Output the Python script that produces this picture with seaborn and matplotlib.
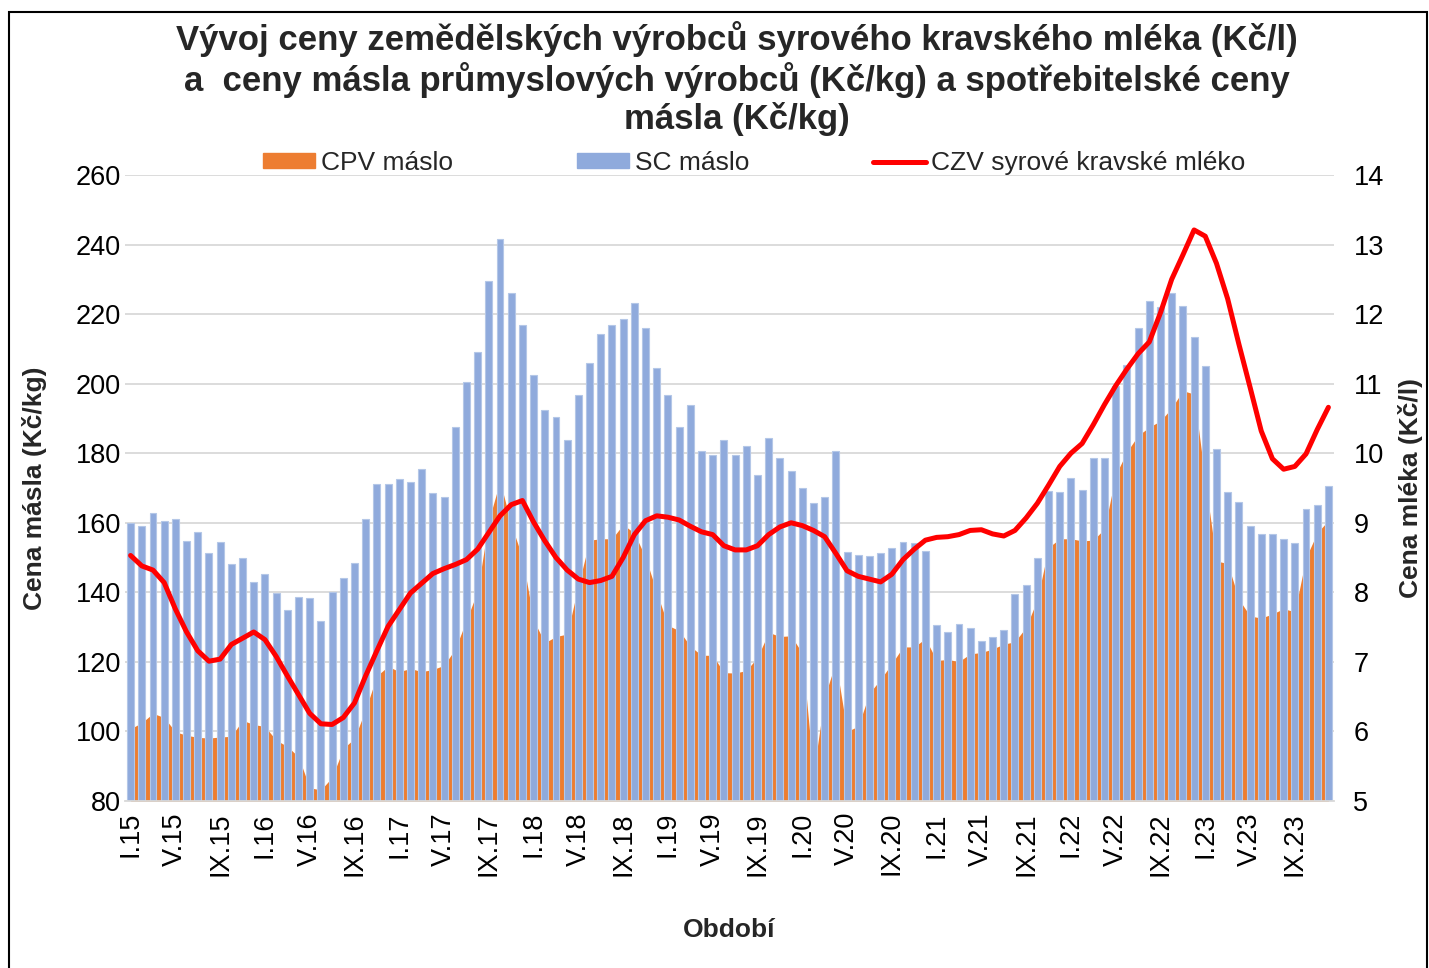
import numpy as np
import pandas as pd
import seaborn as sns
import matplotlib.pyplot as plt
from matplotlib.patches import Patch, Rectangle
from matplotlib.lines import Line2D

sns.set_style('white')
plt.rcParams['font.family'] = ['Liberation Sans', 'DejaVu Sans']

# obdobi I.15 .. XII.23
roman = ['I', 'II', 'III', 'IV', 'V', 'VI', 'VII', 'VIII', 'IX', 'X', 'XI', 'XII']
years = ['15', '16', '17', '18', '19', '20', '21', '22', '23']
obdobi = [m + '.' + r for r in years for m in roman]

# SC maslo (Kc/kg)
sc = [159.8, 159.2, 162.7, 160.5, 161.0, 154.8, 157.4, 151.2, 154.5, 148.1, 150.0, 142.9,
      145.3, 139.8, 134.8, 138.8, 138.5, 131.8, 140.2, 144.0, 148.4, 161.0, 171.2, 171.2,
      172.5, 171.7, 175.5, 168.5, 167.5, 187.5, 200.6, 209.2, 229.4, 241.7, 226.0, 217.0,
      202.6, 192.5, 190.5, 183.8, 196.8, 206.0, 214.3, 216.8, 218.7, 223.2, 216.1, 204.6,
      196.7, 187.4, 194.0, 180.6, 179.4, 183.8, 179.4, 182.1, 173.7, 184.5, 178.5, 174.9,
      170.1, 165.6, 167.5, 180.6, 151.5, 150.8, 150.5, 151.4, 152.8, 154.6, 154.1, 151.8,
      130.6, 128.5, 131.0, 129.7, 126.1, 127.3, 129.3, 139.6, 142.2, 150.0, 169.0, 168.8,
      172.9, 169.3, 178.7, 178.7, 199.4, 205.5, 215.9, 223.8, 222.0, 226.0, 222.2, 213.5,
      205.0, 181.3, 168.8, 165.9, 159.0, 156.8, 156.8, 155.4, 154.1, 164.1, 165.0, 170.6]

# CPV maslo (Kc/kg)
cpv = [100.8, 102.5, 105.2, 104.0, 99.9, 98.9, 98.3, 98.1, 98.4, 98.6, 103.2, 102.0,
       101.4, 97.5, 95.7, 92.7, 83.8, 83.2, 86.8, 95.1, 98.0, 106.4, 116.0, 118.7,
       117.2, 118.1, 117.2, 117.8, 119.0, 123.7, 132.0, 140.4, 160.7, 172.0, 159.5, 150.0,
       132.0, 125.5, 127.3, 128.0, 142.0, 155.0, 155.4, 155.4, 159.5, 157.0, 150.0, 140.0,
       130.5, 129.0, 124.5, 121.9, 121.9, 116.9, 116.8, 117.5, 121.3, 128.5, 127.3, 127.5,
       122.5, 88.0, 110.0, 120.0, 100.0, 101.5, 111.0, 115.0, 119.5, 124.3, 124.3, 126.7,
       120.4, 120.7, 120.1, 122.3, 122.7, 123.7, 125.1, 125.8, 130.0, 138.0, 152.9, 155.4,
       155.4, 154.8, 155.0, 158.3, 173.8, 180.4, 185.1, 187.5, 189.3, 193.0, 198.0, 197.0,
       172.0, 149.0, 148.3, 138.0, 133.2, 132.6, 133.8, 135.3, 134.4, 150.0, 157.1, 160.7]

# CZV syrove kravske mleko (Kc/l)
czv = [8.53, 8.38, 8.32, 8.14, 7.76, 7.43, 7.16, 7.01, 7.04, 7.25, 7.34, 7.43,
       7.32, 7.08, 6.80, 6.53, 6.26, 6.11, 6.10, 6.20, 6.41, 6.80, 7.16, 7.51,
       7.75, 7.99, 8.13, 8.27, 8.34, 8.40, 8.47, 8.62, 8.86, 9.10, 9.26, 9.32,
       9.01, 8.74, 8.50, 8.32, 8.19, 8.14, 8.17, 8.23, 8.50, 8.83, 9.03, 9.10,
       9.08, 9.04, 8.95, 8.87, 8.83, 8.67, 8.61, 8.61, 8.67, 8.83, 8.94, 9.00,
       8.96, 8.89, 8.80, 8.56, 8.31, 8.23, 8.19, 8.15, 8.26, 8.47, 8.62, 8.75,
       8.79, 8.80, 8.83, 8.89, 8.90, 8.84, 8.81, 8.89, 9.07, 9.28, 9.54, 9.81,
       10.00, 10.14, 10.41, 10.70, 10.97, 11.21, 11.43, 11.60, 12.02, 12.50, 12.85, 13.21,
       13.12, 12.73, 12.22, 11.57, 10.95, 10.32, 9.92, 9.77, 9.81, 9.99, 10.34, 10.66]

df = pd.DataFrame({'obdobi': obdobi, 'sc': sc, 'cpv': cpv, 'czv': czv})
df['pos'] = np.arange(len(df))

orange = '#ED7D31'
blue = '#8FAADC'
red = '#FF0000'

W, H = 1429, 968
fig = plt.figure(figsize=(W / 100, H / 100), dpi=100)
ax = fig.add_axes([125 / W, 1 - 801 / H, (1334 - 125) / W, (801 - 175) / H])

# CPV as area behind the bars
ax.fill_between(df['pos'], df['cpv'], 0, color=orange, lw=0, zorder=1)
sns.barplot(data=df, x='pos', y='sc', native_scale=True, color=blue, width=0.62,
            edgecolor='#B4C7E7', linewidth=0.8, saturation=1, ax=ax, zorder=2)

ax.set_xlim(-0.5, len(df) - 0.5)
ax.set_ylim(80, 260)
ax.set_yticks(range(80, 261, 20))
ax.yaxis.grid(True, color='#D9D9D9', lw=1.3)
ax.set_axisbelow(True)
ax.set_xticks(df['pos'][::4])
ax.set_xticklabels(df['obdobi'][::4], rotation=90)
ax.tick_params(axis='both', labelsize=19.5, length=0, colors='black')
ax.tick_params(axis='y', pad=3)
ax.tick_params(axis='x', pad=8)
for s in ['top', 'left', 'right']:
    ax.spines[s].set_visible(False)
ax.spines['bottom'].set_color('#D9D9D9')
ax.spines['bottom'].set_linewidth(1.3)

ax.set_xlabel('Období', fontsize=19, fontweight='bold')
ax.xaxis.set_label_coords(0.5, -(918 - 801) / 626)
ax.set_ylabel('Cena másla (Kč/kg)', fontsize=19, fontweight='bold')
ax.yaxis.set_label_coords((47 - 125) / 1209, 0.5)

ax2 = ax.twinx()
sns.lineplot(data=df, x='pos', y='czv', color=red, lw=3.6, ax=ax2)
ax2.set_ylim(5, 14)
ax2.set_yticks(range(5, 15))
ax2.tick_params(axis='y', labelsize=19.5, length=0, pad=14, colors='black')
for s in ax2.spines.values():
    s.set_visible(False)
ax2.set_ylabel('Cena mléka (Kč/l)', fontsize=19, fontweight='bold', rotation=90)
ax2.yaxis.set_label_coords((1398 - 125) / 1209, 0.5)
ax2.set_xlabel('')

fig.text(737 / W, 1 - 21 / H,
         'Vývoj ceny zemědělských výrobců syrového kravského mléka (Kč/l)\n'
         'a  ceny másla průmyslových výrobců (Kč/kg) a spotřebitelské ceny\n'
         'másla (Kč/kg)',
         ha='center', va='top', fontsize=25, fontweight='bold', linespacing=1.16)

handles = [Patch(color=orange), Patch(color=blue), Line2D([], [], color=red, lw=3.6)]
labels = ['CPV máslo', 'SC máslo', 'CZV syrové kravské mléko']
fig.legend(handles, labels, loc='center', bbox_to_anchor=(754 / W, 1 - 163 / H), ncol=3,
           frameon=False, fontsize=19, handlelength=2.0, handleheight=0.5,
           handletextpad=0.2, columnspacing=4.7)

fig.patches.append(Rectangle((9 / W, -0.05), (1427 - 9) / W, 1.05 - 12 / H,
                             transform=fig.transFigure, fill=False, ec='black', lw=1.5))

fig.savefig('out.png', dpi=100)
